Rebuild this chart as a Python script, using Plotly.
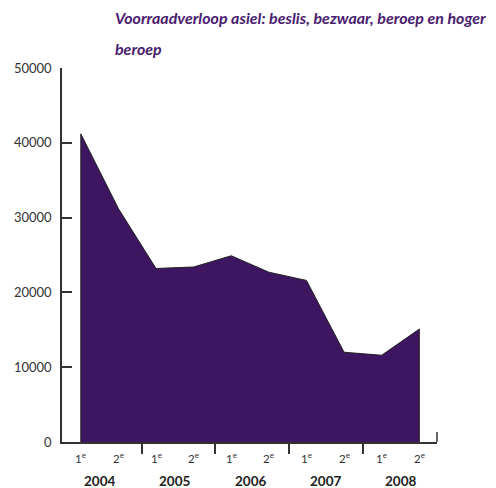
import plotly.graph_objects as go

# Data
periods = ["1e", "2e", "1e", "2e", "1e", "2e", "1e", "2e", "1e", "2e"]
years = ["2004", "2005", "2006", "2007", "2008"]
voorraad = [41200, 31200, 23200, 23400, 24900, 22700, 21600, 12000, 11600, 15100]
y_ticks = [0, 10000, 20000, 30000, 40000, 50000]

xs = list(range(len(voorraad)))
poly_x = [xs[0]] + xs + [xs[-1]]
poly_y = [0] + voorraad + [0]

fig = go.Figure()
fig.add_trace(go.Scatter(
    x=poly_x, y=poly_y, mode="lines", fill="toself",
    fillcolor="#3d1560", line=dict(color="#222222", width=1),
    hoverinfo="skip", showlegend=False))

sep_vals = [1.63, 3.57, 5.54, 7.51]

# page body has an 8px default margin: compensate
fig.update_layout(
    width=488, height=480,
    margin=dict(l=54, r=59, t=60, b=46, autoexpand=False),
    paper_bgcolor="white", plot_bgcolor="white",
    font=dict(family="Lato, Open Sans, sans-serif", color="#333333"),
    xaxis=dict(range=[-0.5, 9.47], showgrid=False, zeroline=False, automargin=False,
               showline=True, linecolor="#333333", linewidth=1.5,
               tickmode="array", tickvals=sep_vals, ticktext=["", "", "", ""],
               ticks="outside", ticklen=10, tickwidth=1.5, tickcolor="#333333"),
    yaxis=dict(range=[0, 50000], showgrid=False, zeroline=False, automargin=False,
               showline=True, linecolor="#333333", linewidth=1.5,
               tickmode="array", tickvals=y_ticks,
               ticktext=[str(v) for v in y_ticks],
               ticks="inside", ticklen=10, tickwidth=1.5, tickcolor="#333333",
               tickfont=dict(size=13, color="#333333"), ticklabelstandoff=6),
)

# right-end upward tick
fig.add_shape(type="line", xref="paper", yref="paper", x0=1, x1=1,
              y0=0, y1=10 / 374, line=dict(color="#333333", width=1.5))

for i, p in enumerate(periods):
    fig.add_annotation(x=xs[i], y=0, xref="x", yref="y", yshift=-15,
                       text=p[0] + "<sup>" + p[1:] + "</sup>", showarrow=False,
                       font=dict(size=11.5, color="#333333"), xanchor="center")
for j, yr in enumerate(years):
    fig.add_annotation(x=(xs[2 * j] + xs[2 * j + 1]) / 2, y=0, xref="x", yref="y",
                       yshift=-39, text="<b>" + yr + "</b>", showarrow=False,
                       font=dict(size=13.5, color="#222222"), xanchor="center")

title_lines = ["Voorraadverloop asiel: beslis, bezwaar, beroep en hoger", "beroep"]
for k, t in enumerate(title_lines):
    fig.add_annotation(x=(113 - 62) / 375, y=1 + (68 - (18 + 30 * k)) / 374,
                       xref="paper", yref="paper", xanchor="left", yanchor="middle",
                       text="<b><i>" + t + "</i></b>", showarrow=False,
                       font=dict(size=16, color="#4a1c6f"))

fig.write_html("out.html")
